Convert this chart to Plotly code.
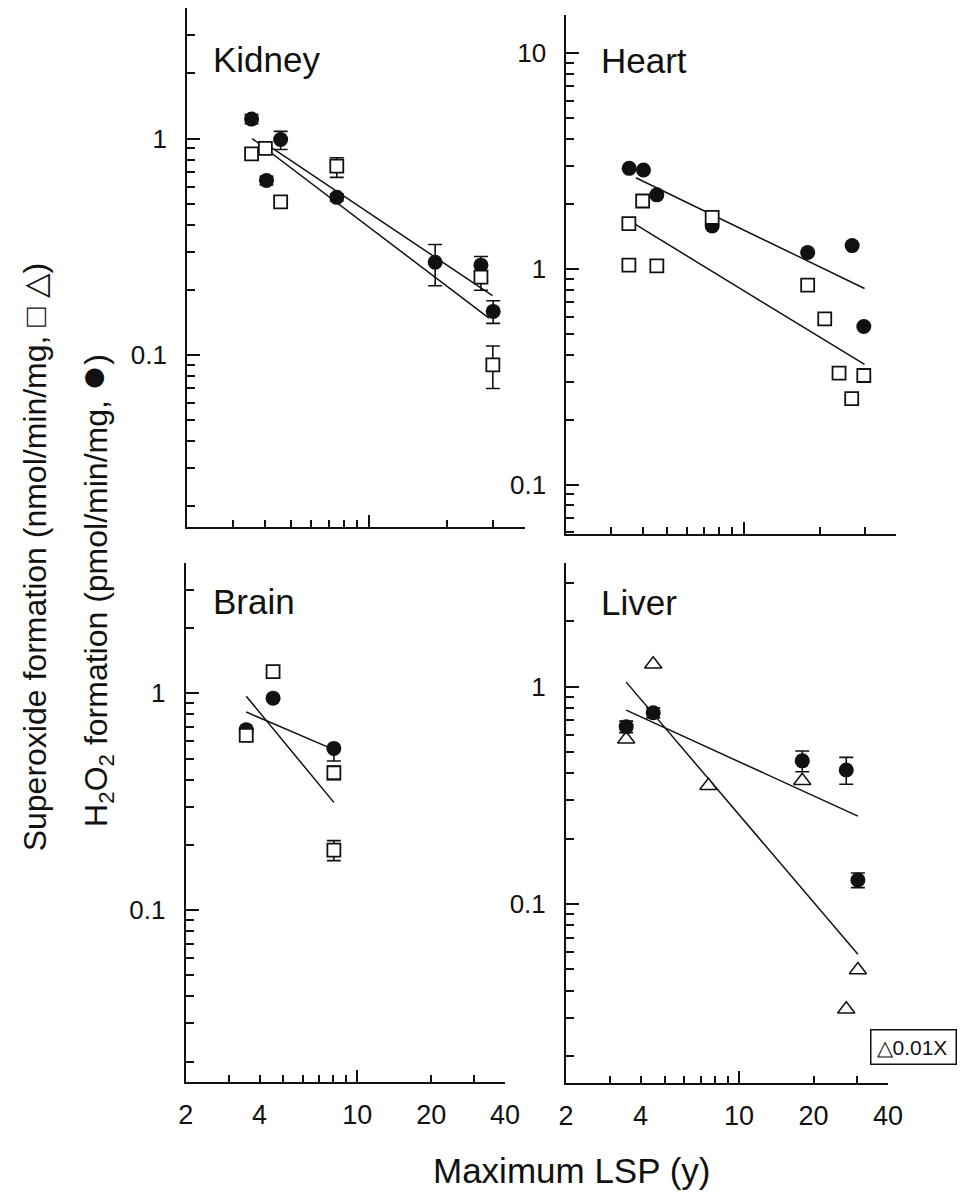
import math
import plotly.graph_objects as go

# ---------------- data ----------------
# Kidney
kidney_lsp_circ = [3.54, 4.04, 4.58, 7.53, 18.0, 27.0, 30.1]
kidney_h2o2 = [1.23, 0.64, 0.99, 0.535, 0.268, 0.26, 0.159]
kidney_h2o2_up = [0.06, 0.03, 0.09, 0.02, 0.056, 0.025, 0.019]
kidney_h2o2_dn = [0.06, 0.03, 0.10, 0.02, 0.059, 0.018, 0.019]
kidney_lsp_sq = [3.54, 4.0, 4.58, 7.53, 27.0, 30.0]
kidney_sup = [0.85, 0.90, 0.51, 0.746, 0.229, 0.09]
kidney_sup_up = [0, 0, 0.03, 0.07, 0.03, 0.02]
kidney_sup_dn = [0, 0, 0.025, 0.084, 0.03, 0.02]
kidney_fit1_x = [3.89, 29.9]
kidney_fit1_y = [0.97, 0.188]
kidney_fit2_x = [3.56, 29.0]
kidney_fit2_y = [1.0, 0.148]

# Heart
heart_lsp_circ = [3.54, 4.03, 4.55, 7.52, 17.9, 26.8, 29.8]
heart_h2o2 = [2.92, 2.87, 2.2, 1.58, 1.19, 1.28, 0.54]
heart_lsp_sq = [3.53, 3.53, 4.0, 4.55, 7.52, 17.9, 20.9, 23.8, 26.7, 29.8]
heart_sup = [1.62, 1.04, 2.06, 1.03, 1.73, 0.84, 0.586, 0.328, 0.25, 0.32]
heart_fit1_x = [3.76, 30.0]
heart_fit1_y = [2.64, 0.81]
heart_fit2_x = [3.76, 30.0]
heart_fit2_y = [1.6, 0.36]

# Brain
brain_lsp_circ = [3.53, 4.54, 8.03]
brain_h2o2 = [0.68, 0.95, 0.557]
brain_h2o2_up = [0, 0, 0]
brain_h2o2_dn = [0, 0, 0.07]
brain_lsp_sq = [3.53, 4.54, 8.03, 8.03]
brain_sup = [0.64, 1.26, 0.43, 0.189]
brain_sup_up = [0.03, 0, 0.03, 0.02]
brain_sup_dn = [0.03, 0, 0.03, 0.02]
brain_fit1_x = [3.53, 8.03]
brain_fit1_y = [0.97, 0.314]
brain_fit2_x = [3.53, 8.03]
brain_fit2_y = [0.82, 0.55]

# Liver (triangles shown at 0.01X)
liver_lsp_circ = [3.5, 4.5, 18.0, 27.1, 30.2]
liver_h2o2 = [0.655, 0.759, 0.456, 0.414, 0.129]
liver_h2o2_up = [0.04, 0.04, 0.05, 0.059, 0.01]
liver_h2o2_dn = [0.04, 0.04, 0.05, 0.058, 0.01]
liver_lsp_tri = [3.5, 4.5, 7.52, 18.0, 27.1, 30.2]
liver_sup = [0.573, 1.27, 0.35, 0.369, 0.0328, 0.0497]
liver_fit1_x = [3.5, 30.2]
liver_fit1_y = [1.05, 0.0587]
liver_fit2_x = [3.5, 30.2]
liver_fit2_y = [0.78, 0.254]

panel_titles = ["Kidney", "Heart", "Brain", "Liver"]
x_tick_labels = ["2", "4", "10", "20", "40"]
x_tick_vals = [2, 4, 10, 20, 40]

# ---------------- styling ----------------
W, H = 961, 1193
FONT = "Liberation Sans, Arial, Helvetica, sans-serif"
BLACK = "#111111"

circle_marker = dict(symbol="circle", size=15, color=BLACK, line=dict(width=0))
square_marker = dict(symbol="square", size=13, color="white", line=dict(width=1.8, color=BLACK))
tri_marker = dict(symbol="triangle-up", size=15, color="white", line=dict(width=1.5, color=BLACK))

fig = go.Figure()


def add_line(xs, ys, xa, ya):
    fig.add_trace(go.Scatter(x=xs, y=ys, mode="lines", xaxis=xa, yaxis=ya,
                             line=dict(color=BLACK, width=1.5), showlegend=False,
                             hoverinfo="skip"))


def add_errors(xs, ys, up, dn, xa, ya):
    idx = [i for i in range(len(xs)) if up[i] > 0 or dn[i] > 0]
    if not idx:
        return
    fig.add_trace(go.Scatter(
        x=[xs[i] for i in idx], y=[ys[i] for i in idx], mode="markers",
        xaxis=xa, yaxis=ya, showlegend=False, hoverinfo="skip",
        marker=dict(size=1, color="rgba(0,0,0,0)"),
        error_y=dict(type="data", symmetric=False,
                     array=[up[i] for i in idx], arrayminus=[dn[i] for i in idx],
                     color=BLACK, thickness=1.6, width=7)))


def add_markers(xs, ys, marker, xa, ya):
    fig.add_trace(go.Scatter(x=xs, y=ys, mode="markers", xaxis=xa, yaxis=ya,
                             marker=marker, showlegend=False))


# Kidney
add_line(kidney_fit1_x, kidney_fit1_y, "x", "y")
add_line(kidney_fit2_x, kidney_fit2_y, "x", "y")
add_errors(kidney_lsp_circ, kidney_h2o2, kidney_h2o2_up, kidney_h2o2_dn, "x", "y")
add_errors(kidney_lsp_sq, kidney_sup, kidney_sup_up, kidney_sup_dn, "x", "y")
add_markers(kidney_lsp_circ, kidney_h2o2, circle_marker, "x", "y")
add_markers(kidney_lsp_sq, kidney_sup, square_marker, "x", "y")

# Heart
add_line(heart_fit1_x, heart_fit1_y, "x2", "y2")
add_line(heart_fit2_x, heart_fit2_y, "x2", "y2")
add_markers(heart_lsp_circ, heart_h2o2, circle_marker, "x2", "y2")
add_markers(heart_lsp_sq, heart_sup, square_marker, "x2", "y2")

# Brain
add_line(brain_fit1_x, brain_fit1_y, "x3", "y3")
add_line(brain_fit2_x, brain_fit2_y, "x3", "y3")
add_errors(brain_lsp_circ, brain_h2o2, brain_h2o2_up, brain_h2o2_dn, "x3", "y3")
add_errors(brain_lsp_sq, brain_sup, brain_sup_up, brain_sup_dn, "x3", "y3")
add_markers(brain_lsp_circ, brain_h2o2, circle_marker, "x3", "y3")
add_markers(brain_lsp_sq, brain_sup, square_marker, "x3", "y3")

# Liver
add_line(liver_fit1_x, liver_fit1_y, "x4", "y4")
add_line(liver_fit2_x, liver_fit2_y, "x4", "y4")
add_markers(liver_lsp_tri, liver_sup, tri_marker, "x4", "y4")
add_errors(liver_lsp_circ, liver_h2o2, liver_h2o2_up, liver_h2o2_dn, "x4", "y4")
add_markers(liver_lsp_circ, liver_h2o2, circle_marker, "x4", "y4")

# ---------------- axes ----------------
xr = [math.log10(2), math.log10(40)]
x_minor = [3, 4, 5, 6, 7, 8, 9, 20, 30, 40]

def px2dom(a, b, total):
    return [a / total, b / total]

def py2dom(top, bottom):
    return [1 - bottom / H, 1 - top / H]

panels = {
    # name: (x domain px, y domain px (top,bottom), y range log)
    "1": ((183.5, 530.0), (8.3, 527.0), (-1.795, 0.602)),
    "2": ((572.0, 910.0), (15.0, 533.7), (-1.228, 1.176)),
    "3": ((182.0, 509.3), (563.3, 1081.7), (-1.792, 0.600)),
    "4": ((571.7, 901.7), (563.3, 1082.7), (-1.822, 0.568)),
}

def y_minor_vals(lo, hi):
    vals = []
    for d in range(-3, 3):
        for m in range(2, 10):
            v = m * 10 ** d
            if 10 ** lo <= v <= 10 ** hi:
                vals.append(v)
    return vals

def y_major_vals(lo, hi):
    return [10 ** d for d in range(-3, 3) if 10 ** lo <= 10 ** d <= 10 ** hi]

def fmt(v):
    return ("%g" % v)

layout_axes = {}
for k, (xd, yd, yr) in panels.items():
    xname = "xaxis" if k == "1" else "xaxis" + k
    yname = "yaxis" if k == "1" else "yaxis" + k
    anchor_y = "y" if k == "1" else "y" + k
    anchor_x = "x" if k == "1" else "x" + k
    layout_axes[xname] = dict(
        type="log", range=xr, domain=px2dom(xd[0], xd[1], W), anchor=anchor_y,
        showline=True, linecolor=BLACK, linewidth=2, mirror=False,
        showgrid=False, zeroline=False,
        ticks="inside", ticklen=12, tickwidth=1.6, tickcolor=BLACK,
        tickmode="array", tickvals=[10],
        showticklabels=False,
        minor=dict(ticks="inside", ticklen=7, tickwidth=1.6, tickcolor=BLACK,
                   tickmode="array", tickvals=x_minor),
    )
    maj = y_major_vals(*yr)
    layout_axes[yname] = dict(
        type="log", range=list(yr), domain=py2dom(yd[0], yd[1]), anchor=anchor_x,
        showline=True, linecolor=BLACK, linewidth=2, mirror=False,
        showgrid=False, zeroline=False,
        ticks="inside", ticklen=13, tickwidth=1.6, tickcolor=BLACK,
        tickmode="array", tickvals=maj, ticktext=[fmt(v) for v in maj],
        ticklabelstandoff=13,
        tickfont=dict(family=FONT, size=26, color=BLACK),
        minor=dict(ticks="inside", ticklen=8, tickwidth=1.6, tickcolor=BLACK,
                   tickmode="array", tickvals=y_minor_vals(*yr)),
    )

# overlay axes carrying the x tick labels of the bottom panels
for new, base, yanchor in (("xaxis5", "x3", "y3"), ("xaxis6", "x4", "y4")):
    layout_axes[new] = dict(
        type="log", range=xr, overlaying=base, anchor=yanchor, side="bottom",
        showline=False, showgrid=False, zeroline=False, ticks="",
        tickmode="array", tickvals=x_tick_vals, ticktext=x_tick_labels,
        ticklabelstandoff=14,
        tickfont=dict(family=FONT, size=27, color=BLACK),
    )
fig.add_trace(go.Scatter(x=[10], y=[1], xaxis="x5", yaxis="y3", mode="markers",
                         marker=dict(size=1, color="rgba(0,0,0,0)"), showlegend=False, hoverinfo="skip"))
fig.add_trace(go.Scatter(x=[10], y=[1], xaxis="x6", yaxis="y4", mode="markers",
                         marker=dict(size=1, color="rgba(0,0,0,0)"), showlegend=False, hoverinfo="skip"))

# ---------------- annotations ----------------
annotations = []
title_pos = [(208, 59), (605, 60), (208, 601), (606, 602)]
for t, (x, y) in zip(panel_titles, title_pos):
    annotations.append(dict(text=t, x=x / W, y=1 - y / H, xref="paper", yref="paper",
                            xanchor="left", yanchor="middle", showarrow=False,
                            font=dict(family=FONT, size=35, color=BLACK)))

annotations.append(dict(text="Maximum LSP (y)", x=577 / W, y=1 - 1170 / H,
                        xref="paper", yref="paper", xanchor="center", yanchor="middle",
                        showarrow=False, font=dict(family=FONT, size=35, color=BLACK)))
annotations.append(dict(text="Superoxide formation (nmol/min/mg, \u25a1 \u25b3)",
                        x=28 / W, y=1 - 557 / H, xref="paper", yref="paper",
                        xanchor="center", yanchor="middle", textangle=-90, showarrow=False,
                        font=dict(family=FONT, size=32, color=BLACK)))
annotations.append(dict(text="H<sub>2</sub>O<sub>2</sub> formation (pmol/min/mg, "
                             "<span style='font-size:44px'>\u25cf</span>)",
                        x=87 / W, y=1 - 590 / H, xref="paper", yref="paper",
                        xanchor="center", yanchor="middle", textangle=-90, showarrow=False,
                        font=dict(family=FONT, size=32, color=BLACK)))
annotations.append(dict(text="\u25b30.01X", x=883 / W, y=1 - 1047 / H,
                        xref="paper", yref="paper", xanchor="left", yanchor="middle",
                        showarrow=False, bordercolor=BLACK, borderwidth=1.5, borderpad=5,
                        bgcolor="white", width=74, align="left",
                        font=dict(family=FONT, size=21, color=BLACK)))

fig.update_layout(
    width=W, height=H, margin=dict(l=0, r=0, t=0, b=0),
    paper_bgcolor="white", plot_bgcolor="white",
    showlegend=False, annotations=annotations,
    font=dict(family=FONT, color=BLACK),
    **layout_axes,
)

fig.write_html("out.html")
